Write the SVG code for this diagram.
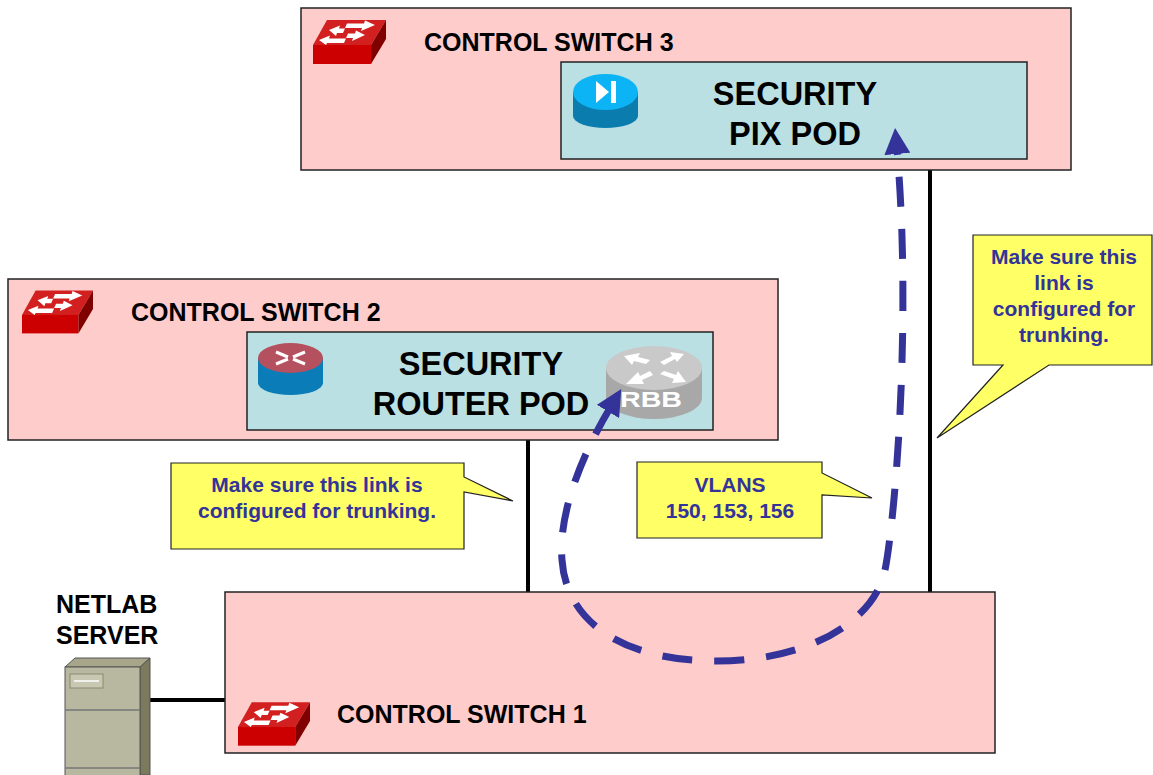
<svg xmlns="http://www.w3.org/2000/svg" width="1153" height="775" viewBox="0 0 1153 775">
  <style>
    .sw { fill: #FFCCCC; stroke: #222; stroke-width: 1.5; }
    .pod { fill: #BBE0E3; stroke: #222; stroke-width: 1.5; }
    .lbl { font-family: "Liberation Sans", Arial, sans-serif; font-weight: bold; fill: #000; }
    .sw-lbl { font-size: 25px; }
    .pod-lbl { font-size: 32.5px; text-anchor: middle; }
    .note { fill: #FFFF66; stroke: #222; stroke-width: 1.2; }
    .note-txt { font-family: "Liberation Sans", Arial, sans-serif; font-weight: bold; font-size: 21px; fill: #333399; text-anchor: middle; }
    .link { stroke: #000; stroke-width: 4; fill: none; }
    .flow { stroke: #333399; stroke-width: 7; fill: none; stroke-dasharray: 30 22; }
  </style>
  <defs>
    <!-- Cisco-style workgroup switch -->
    <symbol id="switch-icon" viewBox="0 0 73 44" overflow="visible">
      <polygon points="14,0 73,0 58,25 0,25" fill="#D21F1F"/>
      <rect x="0" y="25" width="58" height="19" fill="#CC0000"/>
      <polygon points="58,25 73,0 73,19 58,44" fill="#800000"/>
      <g fill="#fff">
        <!-- right-pointing arrow, upper row -->
        <polygon points="62,5 52,0.5 51,3.5 34,3.5 32,8 49,8 48,11"/>
        <!-- left-pointing arrow, upper row -->
        <polygon points="16,10 27,5.5 26,8.5 32,8.5 30,13 24,13 23,16"/>
        <!-- right-pointing arrow, lower row -->
        <polygon points="52,15 43,10.5 42,13.5 35,13.5 33,18 40,18 39,21"/>
        <!-- left-pointing arrow, lower row -->
        <polygon points="6,20 17,15.5 16,18.5 33,18.5 31,23 14,23 13,25"/>
      </g>
    </symbol>
    <marker id="head" markerUnits="userSpaceOnUse" markerWidth="26" markerHeight="26" refX="4" refY="13" orient="auto-start-reverse" viewBox="0 0 26 26">
      <polygon points="0,0 26,13 0,26" fill="#333399"/>
    </marker>
  </defs>

  <!-- links between switches -->
  <g id="connectors">
    <line class="link" x1="930" y1="170" x2="930" y2="592"/>
    <line class="link" x1="528" y1="440" x2="528" y2="592"/>
    <line class="link" x1="150" y1="700" x2="225" y2="700"/>
  </g>

  <!-- Control switch 3 with PIX pod -->
  <g id="control-switch-3">
    <rect class="sw" x="301" y="8" width="770" height="162"/>
    <use href="#switch-icon" x="313" y="20" width="73" height="44"/>
    <text class="lbl sw-lbl" x="424" y="51">CONTROL SWITCH 3</text>
  </g>
  <g id="pix-pod">
    <rect class="pod" x="561" y="62" width="466" height="97"/>
    <g id="pix-icon">
      <path d="M573,92 L573,116 A32.5,12 0 0 0 638,116 L638,92 Z" fill="#0A7DAE"/>
      <ellipse cx="605.5" cy="92" rx="32.5" ry="18" fill="#0DB4F5"/>
      <polygon points="596,81 596,103 609,92" fill="#fff"/>
      <rect x="611" y="81" width="5" height="22" fill="#fff"/>
    </g>
    <text class="lbl pod-lbl" x="795" y="105">SECURITY</text>
    <text class="lbl pod-lbl" x="795" y="145">PIX POD</text>
  </g>

  <!-- Control switch 2 with router pod -->
  <g id="control-switch-2">
    <rect class="sw" x="8" y="279" width="770" height="161"/>
    <use href="#switch-icon" x="22" y="290" width="71" height="44"/>
    <text class="lbl sw-lbl" x="131" y="321">CONTROL SWITCH 2</text>
  </g>
  <g id="router-pod">
    <rect class="pod" x="247" y="332" width="466" height="98"/>
    <g id="pod-router-icon">
      <path d="M258,358 L258,383 A32.5,12 0 0 0 323,383 L323,358 Z" fill="#0A7DB8"/>
      <ellipse cx="290.5" cy="358" rx="32.5" ry="15" fill="#B5505E"/>
      <g stroke="#fff" stroke-width="3" fill="none">
        <path d="M276,352 L288,357 M305,352 L293,357 M276,364 L288,359 M305,364 L293,359"/>
      </g>
    </g>
    <text class="lbl pod-lbl" x="481" y="375">SECURITY</text>
    <text class="lbl pod-lbl" x="481" y="415">ROUTER POD</text>
  </g>
  <g id="rbb">
    <path d="M606,368 L606,398 A48,21 0 0 0 702,398 L702,368 Z" fill="#A8A8A8"/>
    <ellipse cx="654" cy="368" rx="48" ry="22" fill="#C9C9C9"/>
    <g fill="#fff">
      <polygon points="624,356 640,353 638,357 650,360 646,364 634,361 632,365"/>
      <polygon points="684,354 670,352 672,356 660,362 664,365 675,359 677,362"/>
      <polygon points="626,384 638,372 640,376 650,371 653,375 642,380 644,384"/>
      <polygon points="686,382 672,383 674,379 660,374 664,371 676,375 678,371"/>
    </g>
    <text x="651" y="407" font-family="Liberation Sans, Arial, sans-serif" font-weight="bold" font-size="22" fill="#fff" text-anchor="middle" textLength="62" lengthAdjust="spacingAndGlyphs">RBB</text>
  </g>

  <!-- Control switch 1 -->
  <g id="control-switch-1">
    <rect class="sw" x="225" y="592" width="770" height="161"/>
    <use href="#switch-icon" x="238" y="702" width="72" height="44"/>
    <text class="lbl sw-lbl" x="337" y="723">CONTROL SWITCH 1</text>
  </g>

  <!-- NetLab server -->
  <g id="netlab-server">
    <text class="lbl" x="56" y="613" font-size="25">NETLAB</text>
    <text class="lbl" x="56" y="644" font-size="25">SERVER</text>
    <polygon points="65,667 75,658 150,658 140,667" fill="#A7A68A" stroke="#555" stroke-width="1"/>
    <polygon points="140,667 150,658 150,775 140,775" fill="#7B7A5C" stroke="#555" stroke-width="1"/>
    <rect x="65" y="667" width="75" height="110" fill="#B8B7A0" stroke="#555" stroke-width="1"/>
    <rect x="70" y="674" width="33" height="14" fill="#C8C7B2" stroke="#8A8970" stroke-width="1"/>
    <line x1="74" y1="681" x2="99" y2="681" stroke="#fff" stroke-width="1.5"/>
    <line x1="65" y1="710" x2="140" y2="710" stroke="#777" stroke-width="1.5"/>
    <line x1="65" y1="768" x2="140" y2="768" stroke="#777" stroke-width="1.5"/>
  </g>

  <!-- traffic path between the pods -->
  <g id="flow">
    <path class="flow" marker-start="url(#head)" marker-end="url(#head)"
          d="M610,408 C585,450 558,510 562,560 C566,620 620,661 717,661 C810,661 875,620 885,570 C895,520 912,320 897,150"/>
  </g>

  <!-- callouts -->
  <g id="note-trunk-left">
    <path class="note" d="M171,463 L464,463 L464,477 L513,501 L464,492 L464,549 L171,549 Z"/>
    <text class="note-txt" x="317" y="492">Make sure this link is</text>
    <text class="note-txt" x="317" y="518">configured for trunking.</text>
  </g>
  <g id="note-vlans">
    <path class="note" d="M637,462 L822,462 L822,473 L872,498 L822,495 L822,538 L637,538 Z"/>
    <text class="note-txt" x="730" y="492">VLANS</text>
    <text class="note-txt" x="730" y="518">150, 153, 156</text>
  </g>
  <g id="note-trunk-right">
    <path class="note" d="M973,235 L1152,235 L1152,365 L1049,365 L937,438 L1003,365 L973,365 Z"/>
    <text class="note-txt" x="1064" y="264">Make sure this</text>
    <text class="note-txt" x="1064" y="290">link is</text>
    <text class="note-txt" x="1064" y="316">configured for</text>
    <text class="note-txt" x="1064" y="342">trunking.</text>
  </g>
</svg>
